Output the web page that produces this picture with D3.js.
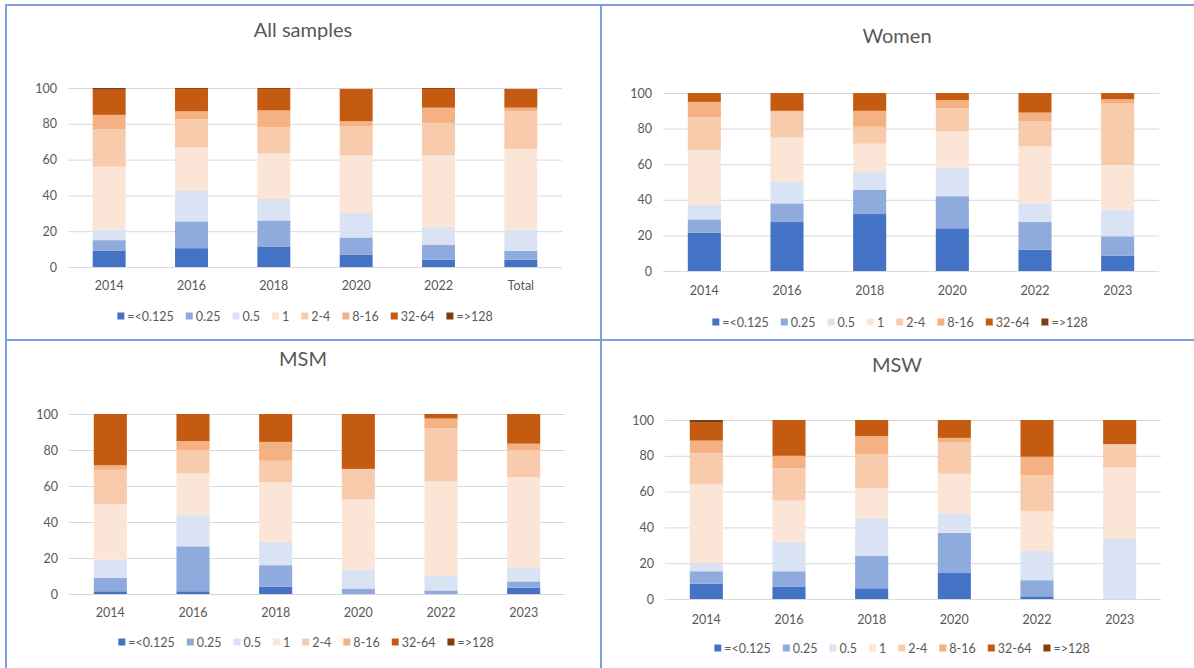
<!DOCTYPE html>
<html>
<head>
<meta charset="utf-8">
<script src="https://cdn.jsdelivr.net/npm/d3@7"></script>
<style>
  html, body { margin: 0; padding: 0; background: #fff; }
  svg { display: block; font-family: Lato, "Open Sans", sans-serif; }
</style>
</head>
<body>
<svg id="chart" width="1194" height="668"></svg>
<script>
// MIC classes (mg/L) and their fill colours
const micBins = ["=<0.125", "0.25", "0.5", "1", "2-4", "8-16", "32-64", "=>128"];
const binColors = ["#4472C4", "#8FAADC", "#DAE3F3", "#FBE5D6", "#F8CBAD", "#F4B183", "#C55A11", "#843C0C"];

const yTicks = [0, 20, 40, 60, 80, 100];

// Categories on the x axis
const yearsAll = ["2014", "2016", "2018", "2020", "2022", "Total"];
const yearsGroup = ["2014", "2016", "2018", "2020", "2022", "2023"];

// Percentage of isolates in each MIC class, one row per category
const allSamplesPct = [
  [9, 6, 6, 35, 21, 8, 14, 1],
  [10.5, 15, 17, 24.5, 15.5, 4.5, 12.5, 0.5],
  [11.5, 14.5, 12, 25.5, 14.5, 9.5, 12, 0.5],
  [7, 9.5, 14, 32, 16, 3, 18, 0],
  [4, 8.5, 10, 40, 18, 8.5, 10.5, 0.5],
  [4, 5, 12, 45, 21, 2, 10.5, 0]
];
const womenPct = [
  [21.5, 7.5, 8, 31, 18.5, 8.5, 5, 0],
  [27.5, 10.5, 12, 25, 14.5, 0.5, 10, 0],
  [32, 13.5, 10, 16, 9.5, 9, 10, 0],
  [24, 18, 16, 20.5, 13, 4.5, 4, 0],
  [12, 15.5, 10.5, 32, 14, 5, 11, 0],
  [8.5, 11, 15, 25, 34.5, 2.5, 3.5, 0]
];
const msmPct = [
  [1.5, 7.5, 10, 31, 19, 2.5, 28.5, 0],
  [1.5, 25, 17.5, 23, 13, 5, 15, 0],
  [4, 12, 13, 33, 12, 10.5, 15.5, 0],
  [0, 3, 10.5, 39, 17, 0, 30.5, 0],
  [0, 2, 8, 52.5, 29.5, 5.5, 2.5, 0],
  [3.5, 3.5, 7.5, 50.5, 15, 3.5, 16.5, 0]
];
const mswPct = [
  [8.5, 7, 4.5, 44, 17.5, 7, 10, 1.5],
  [7, 8.5, 16.5, 23, 18, 7, 20, 0],
  [6, 18, 21, 17, 19, 10, 9, 0],
  [14.5, 22.5, 10.5, 22.5, 17.5, 2.5, 10, 0],
  [1.5, 9, 16.5, 22, 20, 10.5, 20.5, 0],
  [0, 0, 33.5, 40, 13, 0, 13.5, 0]
];

const textColor = "#595959";
const gridColor = "#D9D9D9";
const frameColor = "#7F9FDC";

const svg = d3.select("#chart");

// Quadrant frame lines
const frame = svg.append("g").attr("stroke", frameColor).attr("stroke-width", 2);
frame.append("line").attr("x1", 6).attr("x2", 6).attr("y1", 4).attr("y2", 668);
frame.append("line").attr("x1", 5).attr("x2", 1194).attr("y1", 5).attr("y2", 5);
frame.append("line").attr("x1", 601).attr("x2", 601).attr("y1", 4).attr("y2", 668);
frame.append("line").attr("x1", 5).attr("x2", 1194).attr("y1", 340).attr("y2", 340);

const panels = [
  { title: "All samples", cats: yearsAll, rows: allSamplesPct,
    x0: 68, x1: 562, yTop: 88, yBot: 267, titleX: 303, titleY: 29, labelY: 285, legendY: 316, legendX: 305 },
  { title: "Women", cats: yearsGroup, rows: womenPct,
    x0: 663, x1: 1159, yTop: 93, yBot: 271, titleX: 897, titleY: 35, labelY: 290, legendY: 322, legendX: 900 },
  { title: "MSM", cats: yearsGroup, rows: msmPct,
    x0: 69, x1: 565, yTop: 414, yBot: 594, titleX: 303, titleY: 358, labelY: 612, legendY: 642, legendX: 306 },
  { title: "MSW", cats: yearsGroup, rows: mswPct,
    x0: 665, x1: 1161, yTop: 420, yBot: 599, titleX: 897, titleY: 364, labelY: 619, legendY: 648, legendX: 902 }
];

const stack = d3.stack().keys(d3.range(micBins.length)).value((row, k) => row[k]);

panels.forEach(p => {
  const g = svg.append("g");

  const x = d3.scaleBand().domain(p.cats).range([p.x0, p.x1]).paddingInner(0.6).paddingOuter(0.3);
  const y = d3.scaleLinear().domain([0, 100]).range([p.yBot, p.yTop]);

  // Gridlines and value labels
  const yAxis = g.append("g")
    .attr("transform", `translate(${p.x0},0)`)
    .call(d3.axisLeft(y).tickValues(yTicks).tickSize(-(p.x1 - p.x0)).tickPadding(11));
  yAxis.select(".domain").remove();
  yAxis.selectAll(".tick line").attr("stroke", gridColor).attr("stroke-width", 1);
  yAxis.selectAll(".tick text").attr("fill", textColor).attr("font-size", 12.5)
    .attr("font-family", "Lato, sans-serif");

  // Stacked bars
  const layers = stack(p.rows);
  g.append("g").selectAll("g")
    .data(layers)
    .join("g")
    .attr("fill", (d, i) => binColors[i])
    .selectAll("rect")
    .data(d => d.map((s, j) => ({ s, cat: p.cats[j] })))
    .join("rect")
    .attr("x", d => x(d.cat))
    .attr("width", x.bandwidth())
    .attr("y", d => y(d.s[1]))
    .attr("height", d => Math.max(0, y(d.s[0]) - y(d.s[1])));

  // Category labels
  const xAxis = g.append("g")
    .attr("transform", `translate(0,${p.yBot})`)
    .call(d3.axisBottom(x).tickSize(0).tickPadding(0));
  xAxis.select(".domain").remove();
  xAxis.selectAll(".tick text")
    .attr("fill", textColor).attr("font-size", 12.5).attr("font-family", "Lato, sans-serif")
    .attr("dy", null).attr("y", p.labelY - p.yBot).attr("dominant-baseline", "central");

  // Title
  g.append("text")
    .attr("x", p.titleX).attr("y", p.titleY)
    .attr("text-anchor", "middle").attr("dominant-baseline", "central")
    .attr("fill", textColor).attr("font-size", 20)
    .text(p.title);

  // Legend, laid out from measured label widths and centred
  const gap = 12;
  const leg = g.append("g");
  const items = leg.selectAll("g").data(micBins).join("g");
  items.append("rect").attr("width", 7).attr("height", 7).attr("y", -3.5)
    .attr("fill", (d, i) => binColors[i]);
  items.append("text").attr("x", 10).attr("dominant-baseline", "central")
    .attr("fill", textColor).attr("font-size", 12.5).text(d => d);
  let cx = 0;
  items.each(function () {
    const w = this.querySelector("text").getComputedTextLength();
    d3.select(this).attr("transform", `translate(${cx},0)`);
    cx += 10 + w + gap;
  });
  const total = cx - gap;
  leg.attr("transform", `translate(${p.legendX - total / 2},${p.legendY})`);
});
</script>
</body>
</html>
